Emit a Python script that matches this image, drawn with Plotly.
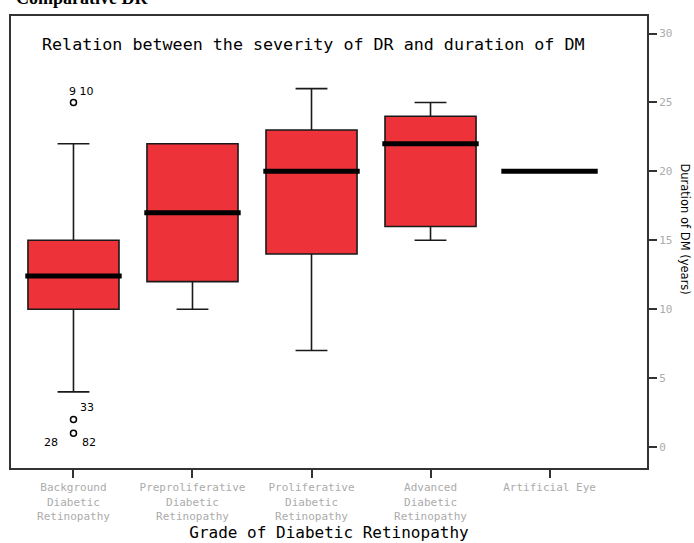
import plotly.graph_objects as go

# ---- data ----
categories = [
    "Background<br>Diabetic<br>Retinopathy",
    "Preproliferative<br>Diabetic<br>Retinopathy",
    "Proliferative<br>Diabetic<br>Retinopathy",
    "Advanced<br>Diabetic<br>Retinopathy",
    "Artificial Eye",
]
lower_whisker = [4, 10, 7, 15, 20]
q1 = [10, 12, 14, 16, 20]
median = [12.4, 17, 20, 22, 20]
q3 = [15, 22, 23, 24, 20]
upper_whisker = [22, 22, 26, 25, 20]

# outliers (category index, value, case label)
outlier_cat = [0, 0, 0, 0, 0]
outlier_val = [25, 25, 2, 1, 1]
outlier_ids = ["9", "10", "33", "28", "82"]

y_ticks = [0, 5, 10, 15, 20, 25, 30]

RED = "#EE3239"
GREY = "#ABABAB"
FONT = "DejaVu Sans"
MONO = "DejaVu Sans Mono"

fig = go.Figure()
xs = list(range(len(categories)))

for i in xs:
    if q1[i] != q3[i]:
        fig.add_trace(go.Box(
            x=[i], q1=[q1[i]], median=[median[i]], q3=[q3[i]],
            lowerfence=[lower_whisker[i]], upperfence=[upper_whisker[i]],
            width=0.765, whiskerwidth=0.35,
            fillcolor=RED, line=dict(color="#1a1a1a", width=1.6),
            boxpoints=False, showlegend=False, hoverinfo="skip",
        ))
    # thick median bar
    fig.add_trace(go.Scatter(
        x=[i - 0.405, i + 0.405], y=[median[i], median[i]],
        mode="lines", line=dict(color="black", width=5),
        showlegend=False, hoverinfo="skip",
    ))

# outlier circles (unique positions)
seen = {}
for c, v, lab in zip(outlier_cat, outlier_val, outlier_ids):
    seen.setdefault((c, v), []).append(lab)
fig.add_trace(go.Scatter(
    x=[k[0] for k in seen], y=[k[1] for k in seen], mode="markers",
    marker=dict(symbol="circle-open", size=6, color="black", line=dict(width=1.5)),
    showlegend=False, hoverinfo="skip",
))
# outlier labels
lab_font = dict(family=FONT, size=11, color="black")
for (c, v), labs in seen.items():
    if len(labs) == 2 and v > median[c]:
        fig.add_annotation(x=c, y=v, text=" ".join(labs), showarrow=False,
                           xanchor="left", yanchor="bottom", xshift=-6, yshift=2,
                           font=lab_font)
    elif len(labs) == 2:
        fig.add_annotation(x=c, y=v, text=labs[0], showarrow=False,
                           xanchor="right", yanchor="middle", xshift=-13, yshift=-9,
                           font=lab_font)
        fig.add_annotation(x=c, y=v, text=labs[1], showarrow=False,
                           xanchor="left", yanchor="middle", xshift=7, yshift=-9,
                           font=lab_font)
    else:
        fig.add_annotation(x=c, y=v, text=labs[0], showarrow=False,
                           xanchor="left", yanchor="bottom", xshift=5, yshift=3,
                           font=lab_font)

# title inside plot
fig.add_annotation(xref="paper", yref="paper", x=0.4756, y=0.937, yanchor="middle",
                   text="Relation between the severity of DR and duration of DM",
                   showarrow=False, font=dict(family=MONO, size=16.7, color="black"))
# right-hand axis title (at page edge)
fig.add_annotation(xref="paper", yref="paper", x=1, y=0.53, xanchor="center",
                   xshift=38, text="Duration of DM (years)", textangle=90,
                   showarrow=False, font=dict(family=FONT, size=11.5, color="black"))
# partially visible heading at top-left (cut by the page top, as in the source)
fig.add_annotation(xref="paper", yref="paper", x=0, y=1, xanchor="right", yanchor="bottom",
                   xshift=139, yshift=6, text="<b>Comparative DR</b>",
                   showarrow=False, font=dict(family="Liberation Serif", size=18, color="black"))

fig.update_layout(
    width=694, height=543,
    margin=dict(l=11, r=47, t=15.5, b=75, autoexpand=False),
    paper_bgcolor="white", plot_bgcolor="white",
    font=dict(family=FONT),
    xaxis=dict(
        range=[-0.525, 4.819], tickvals=xs, ticktext=categories,
        showline=True, linecolor="#333", linewidth=2, mirror=True,
        ticks="outside", ticklen=8, tickwidth=1.5, tickcolor="#333",
        tickfont=dict(family=MONO, size=11, color=GREY),
        showgrid=False, zeroline=False, automargin=False,
        title=dict(text="Grade of Diabetic Retinopathy", standoff=2,
                   font=dict(family=MONO, size=16, color="black")),
    ),
    yaxis=dict(
        range=[-1.52, 31.27], side="right", tickvals=y_ticks,
        showline=True, linecolor="#333", linewidth=2, mirror=True,
        ticks="outside", ticklen=8, tickwidth=1.5, tickcolor="#333",
        tickfont=dict(family=MONO, size=11, color=GREY),
        showgrid=False, zeroline=False, automargin=False,
    ),
)

fig.write_html("out.html", post_script="document.body.style.margin='0';",
               config={"displayModeBar": False})
